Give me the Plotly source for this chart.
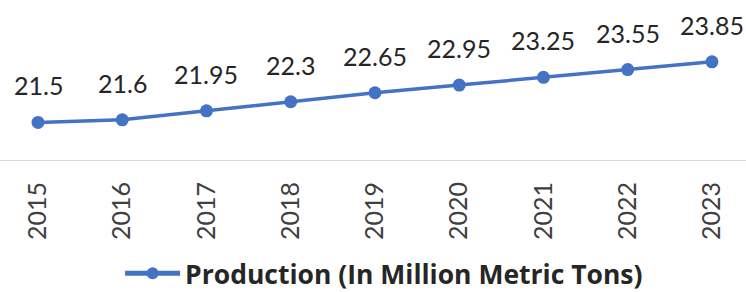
import plotly.graph_objects as go

years = [2015, 2016, 2017, 2018, 2019, 2020, 2021, 2022, 2023]
year_labels = [str(y) for y in years]
production = [21.5, 21.6, 21.95, 22.3, 22.65, 22.95, 23.25, 23.55, 23.85]
series_name = "Production (In Million Metric Tons)"

blue = "#4472C4"
font_family = "Lato, 'Open Sans', sans-serif"

fig = go.Figure()
fig.add_trace(go.Scatter(
    x=years, y=production, mode="lines+markers", name=series_name,
    line=dict(color=blue, width=3.5),
    marker=dict(color=blue, size=13),
    cliponaxis=False,
))

for x, v in zip(years, production):
    fig.add_annotation(
        x=x, y=v, text=f"{v:g}", showarrow=False,
        yanchor="middle", yshift=37,
        font=dict(family=font_family, size=25, color="#262626"),
    )

fig.update_layout(
    width=746, height=292,
    margin=dict(l=0, r=0, t=58, b=131, autoexpand=False),
    paper_bgcolor="white", plot_bgcolor="white",
    showlegend=True,
    legend=dict(
        orientation="h", x=0.161, xanchor="left", y=-1.092, yanchor="middle",
        font=dict(family="'Open Sans', sans-serif", size=26.5, color="#262626", weight="bold"),
        itemwidth=55, itemsizing="constant",
    ),
    xaxis=dict(
        range=[2014.549, 2023.404],
        tickvals=years, ticktext=year_labels,
        tickangle=-90, showgrid=False, zeroline=False,
        showline=False, ticks="", ticklabelstandoff=15,
        tickfont=dict(family=font_family, size=25, color="#404040"),
    ),
    yaxis=dict(range=[20, 24], visible=False, showgrid=False, zeroline=False),
    shapes=[dict(type="line", xref="paper", yref="y", x0=0, x1=1, y0=20, y1=20,
                 line=dict(color="#D9D9D9", width=2))],
)

fig.write_html("out.html", config={"displayModeBar": False},
               post_script="document.body.style.margin='0';")
